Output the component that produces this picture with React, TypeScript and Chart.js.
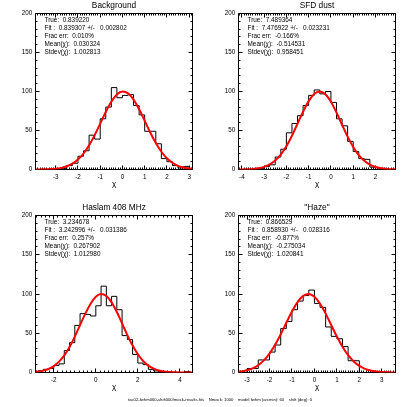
import React, { useEffect, useRef } from "react";
import { Chart, registerables } from "chart.js";

Chart.register(...registerables);

const FONT = '"Liberation Sans", Arial, Helvetica, sans-serif';
const BIN_WIDTH = 0.25;

// ---------- shared axis values ----------
const yTicks = [0, 50, 100, 150, 200];
const footerText =
  "tac02-fwhm060-shift000/mock-results.fits    Nmock: 1000    model fwhm (arcmin): 60    shift (deg): 0";

// ---------- panel 1: Background ----------
const title1 = "Background";
const stats1 = ["True:  0.839220", "Fit :  0.839307 +/-   0.002802", "Frac err:  0.010%", "Mean(\u03c7):  0.030324", "Stdev(\u03c7):  1.002813"];
const xRange1 = [-3.91, 3.15];
const xTicks1 = [-3, -2, -1, 0, 1, 2, 3];
const histStart1 = -3.0;
const counts1 = [1, 1, 5, 8, 17, 24, 44, 39, 65, 80, 105, 92, 95, 96, 82, 70, 49, 49, 33, 14, 10, 5, 2, 4];
const curveX1 = [-3.91, -3.5, -3.25, -3.0, -2.75, -2.5, -2.25, -2.0, -1.75, -1.5, -1.25, -1.0, -0.75, -0.5, -0.25, 0, 0.25, 0.5, 0.75, 1.0, 1.25, 1.5, 1.75, 2.0, 2.25, 2.5, 2.75, 3.0, 3.15];
const curveY1 = [0.04, 0.2, 0.5, 1.0, 2.1, 4.1, 7.4, 12.7, 20.5, 31.0, 44.1, 58.8, 73.8, 86.9, 96.2, 99.9, 97.6, 89.6, 77.2, 62.5, 47.5, 34.0, 22.8, 14.4, 8.5, 4.7, 2.5, 1.2, 0.8];

// ---------- panel 2: SFD dust ----------
const title2 = "SFD dust";
const stats2 = ["True:  7.489364", "Fit :  7.476922 +/-   0.023231", "Frac err:  -0.166%", "Mean(\u03c7):  -0.514531", "Stdev(\u03c7):  0.958451"];
const xRange2 = [-4.15, 2.9];
const xTicks2 = [-4, -3, -2, -1, 0, 1, 2];
const histStart2 = -3.25;
const counts2 = [1, 4, 6, 16, 26, 47, 59, 69, 82, 95, 102, 97, 100, 86, 65, 56, 36, 23, 14, 13, 3];
const curveX2 = [-4.15, -3.75, -3.5, -3.25, -3.0, -2.75, -2.5, -2.25, -2.0, -1.75, -1.5, -1.25, -1.0, -0.75, -0.5, -0.25, 0, 0.25, 0.5, 0.75, 1.0, 1.25, 1.5, 1.75, 2.0, 2.25, 2.5, 2.75, 2.9];
const curveY2 = [0.07, 0.33, 0.77, 1.7, 3.4, 6.5, 11.6, 19.2, 29.8, 43.3, 58.6, 74.2, 87.7, 96.9, 100, 96.4, 86.8, 73.0, 57.4, 42.1, 28.9, 18.5, 11.1, 6.2, 3.2, 1.6, 0.7, 0.3, 0.18];

// ---------- panel 3: Haslam 408 MHz ----------
const title3 = "Haslam 408 MHz";
const stats3 = ["True:  3.234678", "Fit :  3.242996 +/-   0.031386", "Frac err:  0.257%", "Mean(\u03c7):  0.267902", "Stdev(\u03c7):  1.012980"];
const xRange3 = [-2.87, 4.6];
const xTicks3 = [-2, 0, 2, 4];
const histStart3 = -2.75;
const counts3 = [2, 4, 5, 9, 11, 28, 38, 60, 75, 74, 72, 85, 110, 85, 97, 80, 47, 42, 23, 12, 10, 4, 2, 1, 1, 0, 0, 0, 1];
const curveX3 = [-2.87, -2.75, -2.5, -2.25, -2.0, -1.75, -1.5, -1.25, -1.0, -0.75, -0.5, -0.25, 0, 0.25, 0.5, 0.75, 1.0, 1.25, 1.5, 1.75, 2.0, 2.25, 2.5, 2.75, 3.0, 3.25, 3.5, 3.75, 4.0, 4.25, 4.6];
const curveY3 = [0.8, 1.2, 2.4, 4.5, 8.2, 13.8, 21.8, 32.5, 45.7, 60.4, 75.0, 87.7, 96.6, 100, 97.4, 89.3, 77.0, 62.5, 47.7, 34.3, 23.2, 14.7, 8.8, 5.0, 2.6, 1.3, 0.6, 0.3, 0.1, 0.04, 0.01];

// ---------- panel 4: "Haze" ----------
const title4 = "\"Haze\"";
const stats4 = ["True:  0.866529", "Fit :  0.858930 +/-   0.028316", "Frac err:  -0.877%", "Mean(\u03c7):  -0.275034", "Stdev(\u03c7):  1.020841"];
const xRange4 = [-3.38, 3.61];
const xTicks4 = [-3, -2, -1, 0, 1, 2, 3];
const histStart4 = -3.0;
const counts4 = [5, 5, 16, 16, 26, 35, 56, 65, 80, 91, 98, 105, 88, 83, 58, 46, 43, 33, 15, 15];
const curveX4 = [-3.38, -3.25, -3.0, -2.75, -2.5, -2.25, -2.0, -1.75, -1.5, -1.25, -1.0, -0.75, -0.5, -0.25, 0, 0.25, 0.5, 0.75, 1.0, 1.25, 1.5, 1.75, 2.0, 2.25, 2.5, 2.75, 3.0, 3.25, 3.5, 3.61];
const curveY4 = [1.0, 1.4, 2.8, 5.3, 9.3, 15.4, 24.0, 35.2, 48.7, 63.4, 77.7, 89.7, 97.6, 100, 96.4, 87.6, 75.0, 60.4, 45.8, 32.8, 22.0, 14.0, 8.4, 4.7, 2.5, 1.2, 0.6, 0.3, 0.1, 0.08];

// ---------- layout (plot boxes in page pixels) ----------
const boxes = [
  { L: 35.5, R: 192.5, T: 13.5, B: 169.5 },
  { L: 238.5, R: 395.5, T: 13.5, B: 169.5 },
  { L: 35.5, R: 192.5, T: 215.5, B: 372.5 },
  { L: 238.5, R: 395.5, T: 215.5, B: 372.5 },
];

type PanelCfg = {
  title: string;
  stats: string[];
  xRange: number[];
  xTicks: number[];
  histStart: number;
  counts: number[];
  curveX: number[];
  curveY: number[];
  box: { L: number; R: number; T: number; B: number };
  footer: boolean;
};

const panels: PanelCfg[] = [
  { title: title1, stats: stats1, xRange: xRange1, xTicks: xTicks1, histStart: histStart1, counts: counts1, curveX: curveX1, curveY: curveY1, box: boxes[0], footer: false },
  { title: title2, stats: stats2, xRange: xRange2, xTicks: xTicks2, histStart: histStart2, counts: counts2, curveX: curveX2, curveY: curveY2, box: boxes[1], footer: false },
  { title: title3, stats: stats3, xRange: xRange3, xTicks: xTicks3, histStart: histStart3, counts: counts3, curveX: curveX3, curveY: curveY3, box: boxes[2], footer: false },
  { title: title4, stats: stats4, xRange: xRange4, xTicks: xTicks4, histStart: histStart4, counts: counts4, curveX: curveX4, curveY: curveY4, box: boxes[3], footer: true },
];

const W = 407;
const H = 407;
const YW = 30;
const XH = 20;

function Panel({ cfg }: { cfg: PanelCfg }) {
  const ref = useRef<HTMLCanvasElement>(null);
  useEffect(() => {
    const canvas = ref.current;
    if (!canvas) return;
    const { L, R, T, B } = cfg.box;

    const histPts: { x: number; y: number }[] = [];
    histPts.push({ x: cfg.histStart, y: 0 });
    cfg.counts.forEach((c, i) => histPts.push({ x: cfg.histStart + i * BIN_WIDTH, y: c }));
    const end = cfg.histStart + cfg.counts.length * BIN_WIDTH;
    histPts.push({ x: end, y: cfg.counts[cfg.counts.length - 1] });
    histPts.push({ x: end, y: 0 });

    const curvePts = cfg.curveX.map((x, i) => ({ x, y: cfg.curveY[i] }));

    const deco = {
      id: "deco",
      beforeDatasetsDraw(chart: any) {
        const ctx = chart.ctx as CanvasRenderingContext2D;
        const { left, right, top, bottom } = chart.chartArea;
        const xs = chart.scales.x;
        const ys = chart.scales.y;
        ctx.save();
        ctx.strokeStyle = "#000";
        ctx.lineWidth = 1;
        ctx.beginPath();
        ctx.rect(left, top, right - left, bottom - top);
        // y ticks
        for (let v = 0; v <= 200; v += 10) {
          const py = Math.floor(ys.getPixelForValue(v)) + 0.5;
          const len = v % 50 === 0 ? 4 : 2;
          ctx.moveTo(left, py);
          ctx.lineTo(left + len, py);
          ctx.moveTo(right, py);
          ctx.lineTo(right - len, py);
        }
        // x ticks
        const step = cfg.xTicks[1] - cfg.xTicks[0];
        const minor = step / 10;
        const k0 = Math.ceil(cfg.xRange[0] / minor - 1e-9);
        const k1 = Math.floor(cfg.xRange[1] / minor + 1e-9);
        for (let k = k0; k <= k1; k++) {
          const v = k * minor;
          const px = Math.floor(xs.getPixelForValue(v)) + 0.5;
          const isMajor = k % 10 === 0;
          const len = isMajor ? 4 : 2;
          ctx.moveTo(px, bottom);
          ctx.lineTo(px, bottom - len);
          ctx.moveTo(px, top);
          ctx.lineTo(px, top + len);
        }
        ctx.stroke();

        // title
        ctx.fillStyle = "#000";
        ctx.textBaseline = "middle";
        ctx.textAlign = "center";
        ctx.font = `8.3px ${FONT}`;
        ctx.fillText(cfg.title, (left + right) / 2, top - 8);
        // axis label
        ctx.font = `8px ${FONT}`;
        ctx.fillText("\u03c7", (left + right) / 2, bottom + 14.5);
        // stats
        ctx.textAlign = "left";
        ctx.font = `6.4px ${FONT}`;
        cfg.stats.forEach((s, i) => {
          ctx.fillText(s, left + 9, top + 6.8 + i * 8.1);
        });
        if (cfg.footer) {
          ctx.font = `4.2px ${FONT}`;
          ctx.fillText(footerText, 128, 400, 186);
        }
        ctx.restore();
      },
    };

    const chart = new Chart(canvas, {
      type: "line",
      data: {
        datasets: [
          {
            data: curvePts,
            borderColor: "#ff0000",
            borderWidth: 2,
            pointRadius: 0,
            cubicInterpolationMode: "monotone",
            fill: false,
          },
          {
            data: histPts,
            borderColor: "#000000",
            borderWidth: 1,
            pointRadius: 0,
            stepped: "before",
            fill: false,
          },
        ],
      } as any,
      options: {
        animation: false,
        responsive: false,
        events: [],
        layout: {
          padding: { left: L - YW, right: W - R, top: T, bottom: H - B - XH },
        },
        plugins: {
          legend: { display: false },
          tooltip: { enabled: false },
          title: { display: false },
        },
        scales: {
          x: {
            type: "linear",
            min: cfg.xRange[0],
            max: cfg.xRange[1],
            grid: { display: false, drawTicks: false },
            border: { display: false },
            afterBuildTicks: (s: any) => {
              s.ticks = cfg.xTicks.map((v) => ({ value: v }));
            },
            afterFit: (s: any) => {
              s.height = XH;
            },
            ticks: {
              font: { family: FONT, size: 6.3 },
              color: "#000",
              padding: 3.6,
              maxRotation: 0,
              autoSkip: false,
              callback: (v: any) => String(v),
            },
          },
          y: {
            type: "linear",
            min: 0,
            max: 200,
            grid: { display: false, drawTicks: false },
            border: { display: false },
            afterBuildTicks: (s: any) => {
              s.ticks = yTicks.map((v) => ({ value: v }));
            },
            afterFit: (s: any) => {
              s.width = YW;
            },
            ticks: {
              font: { family: FONT, size: 6.3 },
              color: "#000",
              padding: 3.2,
              callback: (v: any) => String(v),
            },
          },
        },
      } as any,
      plugins: [deco],
    });
    return () => chart.destroy();
  }, [cfg]);
  return (
    <canvas
      ref={ref}
      width={W}
      height={H}
      style={{ position: "absolute", left: 0, top: 0, width: W, height: H }}
    />
  );
}

export default function App() {
  return (
    <div style={{ position: "fixed", left: 0, top: 0, width: W, height: H, background: "#fff" }}>
      {panels.map((p, i) => (
        <Panel key={i} cfg={p} />
      ))}
    </div>
  );
}
